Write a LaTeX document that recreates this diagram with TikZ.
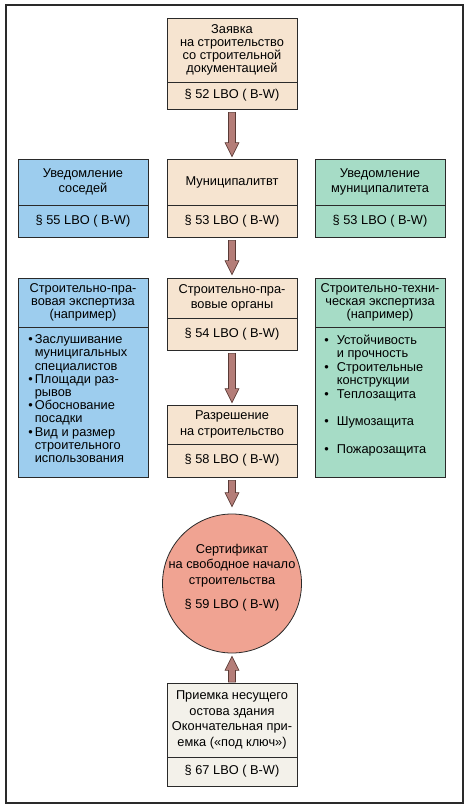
\documentclass[tikz,border=0pt]{standalone}
\usepackage{fontspec}
\setmainfont{Liberation Sans}
\usetikzlibrary{calc}

\definecolor{peach}{HTML}{F6E4D0}
\definecolor{skyblue}{HTML}{9DCDEE}
\definecolor{mint}{HTML}{A6DCC6}
\definecolor{salmon}{HTML}{F0A392}
\definecolor{paper}{HTML}{F3F1EA}
\definecolor{boxline}{HTML}{2A2A2A}
\definecolor{arrowfill}{HTML}{B47D78}
\definecolor{arrowline}{HTML}{5A3A35}

\newcommand{\blt}{\llap{\textbullet\hspace{2pt}}}
\newcommand{\bltwide}{\llap{\textbullet\hspace{8pt}}}

\begin{document}
\begin{tikzpicture}[x=1pt, y=-1pt,
  part/.style={rectangle, draw=boxline, line width=0.8pt,
               minimum width=130pt, inner sep=0pt},
  txt/.style={align=center, inner sep=0pt,
              font=\fontsize{12.8pt}{13pt}\selectfont},
  listtxt/.style={align=left, inner sep=0pt, anchor=north west,
                  font=\fontsize{12.8pt}{13.2pt}\selectfont},
  flow/.style={fill=arrowfill, draw=arrowline, line width=0.6pt}
  ]

  \useasboundingbox (0,0) rectangle (469,810);
  \draw[boxline, line width=1.2pt] (6,5) rectangle (463,803);

  % application
  \node[part, fill=peach, minimum height=64pt] (zayavka) at (232,50) {};
  \node[txt] at (zayavka.center) {Заявка\\на строительство\\со строительной\\документацией};
  \node[part, fill=peach, minimum height=27pt] (zayavkaLBO) at (232,95.5) {};
  \node[txt] at (zayavkaLBO.center) {§ 52 LBO ( B-W)};

  % second row
  \node[part, fill=skyblue, minimum height=46pt] (sosedi) at (83,182) {};
  \node[txt, font=\fontsize{12.8pt}{15pt}\selectfont] at (sosedi.center) {Уведомление\\соседей};
  \node[part, fill=skyblue, minimum height=32pt] (sosediLBO) at (83,221) {};
  \node[txt] at (sosediLBO.center) {§ 55 LBO ( B-W)};

  \node[part, fill=peach, minimum height=46pt] (munic) at (232,182) {};
  \node[txt] at (munic.center) {Муниципалитвт};
  \node[part, fill=peach, minimum height=32pt] (municLBO) at (232,221) {};
  \node[txt] at (municLBO.center) {§ 53 LBO ( B-W)};

  \node[part, fill=mint, minimum height=46pt] (uvedmun) at (380,182) {};
  \node[txt, font=\fontsize{12.8pt}{15pt}\selectfont] at (uvedmun.center) {Уведомление\\муниципалитета};
  \node[part, fill=mint, minimum height=32pt] (uvedmunLBO) at (380,221) {};
  \node[txt] at (uvedmunLBO.center) {§ 53 LBO ( B-W)};

  % third row
  \node[part, fill=skyblue, minimum height=49pt] (pravexp) at (83,302.5) {};
  \node[txt] at (pravexp.center) {Строительно-пра-\\вовая экспертиза\\(например)};
  \node[part, fill=skyblue, minimum height=150pt] (pravexpList) at (83,402) {};
  \node[listtxt] at ([xshift=17pt,yshift=-8pt]pravexpList.north west)
    {\blt Заслушивание\\муницигальных\\специалистов\\
     \blt Площади раз-\\рывов\\
     \blt Обоснование\\посадки\\
     \blt Вид и размер\\строительного\\использования};

  \node[part, fill=peach, minimum height=40pt] (organy) at (232,298) {};
  \node[txt, font=\fontsize{12.8pt}{15pt}\selectfont] at (organy.center) {Строительно-пра-\\вовые органы};
  \node[part, fill=peach, minimum height=32pt] (organyLBO) at (232,334) {};
  \node[txt] at (organyLBO.center) {§ 54 LBO ( B-W)};

  \node[part, fill=mint, minimum height=49pt] (techexp) at (380,302.5) {};
  \node[txt] at (techexp.center) {Строительно-техни-\\ческая экспертиза\\(например)};
  \node[part, fill=mint, minimum height=150pt] (techexpList) at (380,402) {};
  \node[listtxt, font=\fontsize{12.8pt}{13.5pt}\selectfont] at ([xshift=22pt,yshift=-8pt]techexpList.north west)
    {\bltwide Устойчивость\\и прочность\\
     \bltwide Строительные\\конструкции\\
     \bltwide Теплозащита\\[14pt]
     \bltwide Шумозащита\\[14pt]
     \bltwide Пожарозащита};

  % permit
  \node[part, fill=peach, minimum height=39pt] (razresh) at (232,424.5) {};
  \node[txt, font=\fontsize{12.8pt}{16pt}\selectfont] at (razresh.center) {Разрешение\\на строительство};
  \node[part, fill=peach, minimum height=33pt] (razreshLBO) at (232,460.5) {};
  \node[txt] at (razreshLBO.center) {§ 58 LBO ( B-W)};

  % certificate
  \node[circle, draw=boxline, line width=0.8pt, fill=salmon, minimum size=139pt] (sert) at (232,583.5) {};
  \node[txt, font=\fontsize{12.8pt}{15.5pt}\selectfont] at ([yshift=6pt]sert.center)
    {Сертификат\\на свободное начало\\строительства\\[9pt]§ 59 LBO ( B-W)};

  % acceptance
  \node[part, fill=paper, minimum height=74pt] (priemka) at (232,720) {};
  \node[txt, font=\fontsize{12.8pt}{15.7pt}\selectfont] at (priemka.center)
    {Приемка несущего\\остова здания\\Окончательная при-\\емка («под ключ»)};
  \node[part, fill=paper, minimum height=29pt] (priemkaLBO) at (232,771.5) {};
  \node[txt] at (priemkaLBO.center) {§ 67 LBO ( B-W)};

  % arrows
  \foreach \from/\to/\g in {zayavkaLBO/munic/2, municLBO/organy/3, organyLBO/razresh/2, razreshLBO/sert/7}
    \filldraw[flow] ($(\from.south)+(-3.5,3)$) -- ($(\to.north)+(-3.5,-\g-14)$)
      -- ($(\to.north)+(-7,-\g-14)$) -- ($(\to.north)+(0,-\g)$)
      -- ($(\to.north)+(7,-\g-14)$) -- ($(\to.north)+(3.5,-\g-14)$)
      -- ($(\from.south)+(3.5,3)$) -- cycle;
  \filldraw[flow] ($(priemka.north)+(-3.5,-0.5)$) -- ($(sert.south)+(-3.5,17)$)
    -- ($(sert.south)+(-7,17)$) -- ($(sert.south)+(0,3)$)
    -- ($(sert.south)+(7,17)$) -- ($(sert.south)+(3.5,17)$)
    -- ($(priemka.north)+(3.5,-0.5)$) -- cycle;

\end{tikzpicture}
\end{document}
